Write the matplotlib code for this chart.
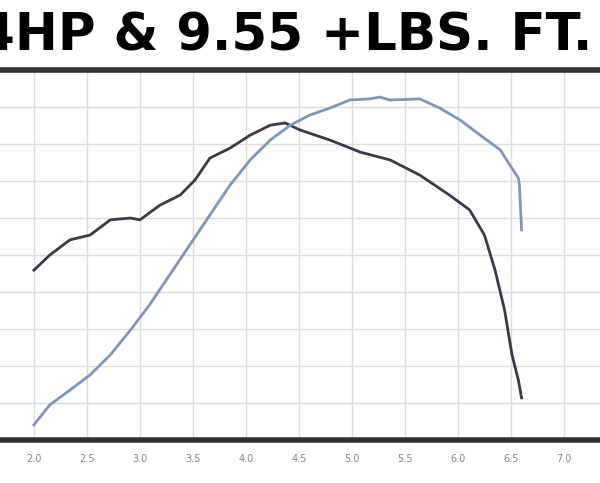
import matplotlib.pyplot as plt

# dark curve
rpm_a = [2.0, 2.15, 2.34, 2.53, 2.72, 2.91, 3.0, 3.19, 3.38, 3.52, 3.66, 3.85, 4.04, 4.23, 4.37,
         4.51, 4.79, 5.08, 5.36, 5.64, 5.92, 6.11, 6.25, 6.35, 6.44, 6.51, 6.57, 6.6]
val_a = [4.59, 5.0, 5.41, 5.54, 5.95, 6.0, 5.95, 6.35, 6.62, 7.03, 7.62, 7.89, 8.24, 8.51, 8.57,
         8.38, 8.11, 7.78, 7.57, 7.16, 6.62, 6.22, 5.54, 4.59, 3.51, 2.3, 1.62, 1.14]
# blue curve
rpm_b = [2.0, 2.15, 2.34, 2.53, 2.72, 2.91, 3.09, 3.28, 3.47, 3.66, 3.85, 4.04, 4.23, 4.42, 4.6,
         4.79, 4.98, 5.17, 5.26, 5.36, 5.64, 5.83, 6.02, 6.21, 6.4, 6.49, 6.57, 6.58, 6.6]
val_b = [0.41, 0.95, 1.35, 1.76, 2.3, 2.97, 3.65, 4.46, 5.27, 6.08, 6.89, 7.57, 8.11, 8.51, 8.78,
         8.97, 9.19, 9.22, 9.27, 9.19, 9.22, 8.97, 8.65, 8.24, 7.84, 7.43, 7.08, 6.89, 5.68]
xticks = [2.0, 2.5, 3.0, 3.5, 4.0, 4.5, 5.0, 5.5, 6.0, 6.5, 7.0]

fig = plt.figure(figsize=(6, 4.83), dpi=100)
ax = fig.add_axes([0, 0.089, 1, 0.766])
ax.plot(rpm_a, val_a, color='#3a3a48', lw=2)
ax.plot(rpm_b, val_b, color='#7f97b8', lw=2)
ax.set_xlim(1.68, 7.34)
ax.set_ylim(0, 10)
ax.set_xticks(xticks)
ax.set_xticklabels([f'{t:.1f}' for t in xticks])
ax.set_yticks(range(1, 10))
ax.tick_params(axis='y', length=0, labelleft=False)
ax.tick_params(axis='x', length=0, labelsize=7, labelcolor='#888888', pad=10)
ax.grid(True, color='#dddddd', lw=1)
for s in ['left', 'right']:
    ax.spines[s].set_visible(False)
for s in ['top', 'bottom']:
    ax.spines[s].set_color('#333333')
    ax.spines[s].set_linewidth(4)

fig.text(0.5, 0.925, '3.54HP & 9.55 +LBS. FT. GAI', fontsize=37, fontweight='bold',
         family=['Liberation Sans Narrow', 'DejaVu Sans'], va='center', ha='center')
fig.savefig('out.png')
